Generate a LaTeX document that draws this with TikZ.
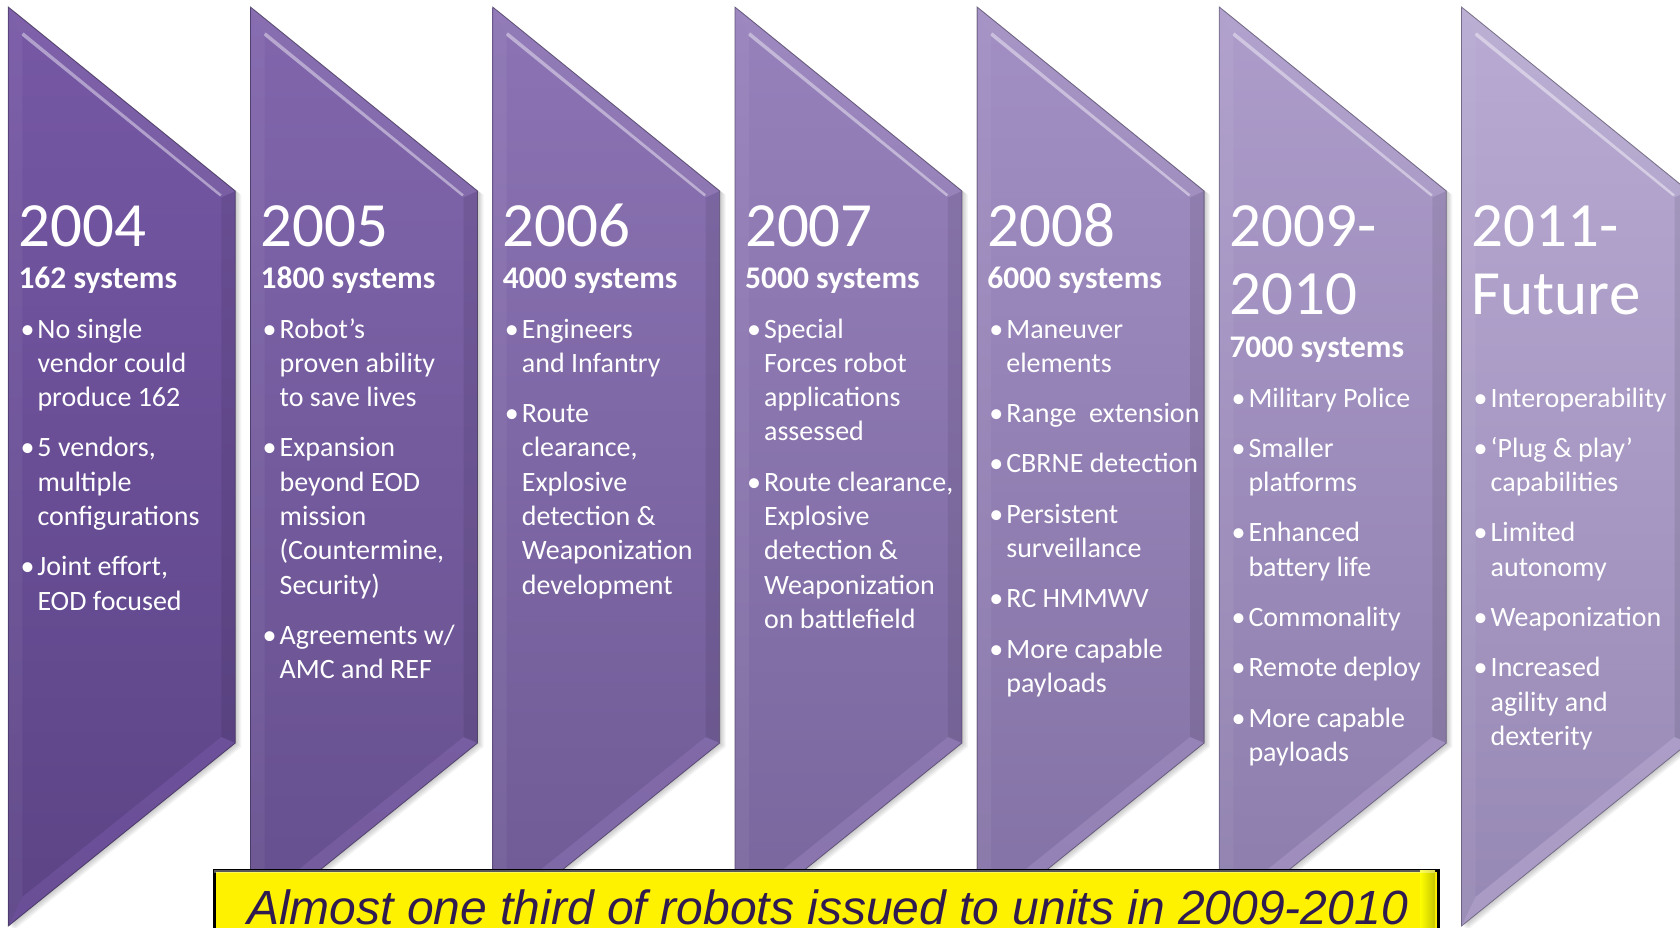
\documentclass[tikz,border=0pt]{standalone}
\usepackage{fontspec}
\setmainfont{Carlito}
\newfontfamily\bannerfont{Liberation Sans}

% column text helpers (lines are broken by hand, so no ragged setting is needed)
\newcommand\yearbox[1]{\parbox[t]{225pt}{\fontsize{63}{68}\selectfont #1}}
\newcommand\sysbox[1]{\parbox[t]{225pt}{\fontsize{31.5}{36}\selectfont\bfseries #1}}
\newcommand\itemlist[1]{\parbox[t]{260pt}{\fontsize{28}{34.3}\selectfont\setlength{\parskip}{16pt}#1}}
\newcommand\itm{\par\hangindent=19pt\hangafter=1\noindent\makebox[19pt][l]{\hspace{2pt}\textbullet}}

\definecolor{topL}{RGB}{118,88,165}
\definecolor{topR}{RGB}{184,170,210}
\definecolor{botL}{RGB}{92,68,134}
\definecolor{botR}{RGB}{150,136,180}
\definecolor{notetext}{RGB}{47,27,79}

\begin{document}
\begin{tikzpicture}[x=1pt,y=-1pt,
  coltext/.style={anchor=base west,inner sep=0pt,text=white},
  notebox/.style={draw=black,line width=3pt,fill=yellow,anchor=north west,
    inner sep=0pt,minimum width=1224pt,minimum height=90pt},
  notefont/.style={anchor=base west,inner sep=0pt,text=notetext,
    font=\bannerfont\itshape\fontsize{48}{52}\selectfont}]

\useasboundingbox (0,0) rectangle (1680,927);
\clip (0,0) rectangle (1680,927);
\fill[white] (0,0) rectangle (1680,927);

% bevelled chevron panels, getting lighter to the right
\foreach \i in {0,...,6} {
  \pgfmathsetmacro\xo{8.3+242.2*\i}
  \pgfmathsetmacro\pc{100-100*\i/6}
  \colorlet{ctop}{topL!\pc!topR}
  \colorlet{cbot}{botL!\pc!botR}
  \begin{scope}[shift={(\xo,0)}]
    % soft drop shadow
    \foreach \k in {1,...,5}
      \fill[black,opacity=0.045,shift={(\k*1.2,\k*0.8)}]
        (0,7) -- (227,191) -- (227,743) -- (0,926) -- cycle;
    % body
    \shade[top color=ctop,bottom color=cbot]
      (0,7) -- (227,191) -- (227,743) -- (0,926) -- cycle;
    % bevel faces
    \fill[white,opacity=0.06] (0,7) -- (227,191) -- (213,197.5) -- (14,36) -- cycle;
    \fill[white,opacity=0.05] (0,7) -- (14,36) -- (14,897) -- (0,926) -- cycle;
    \fill[black,opacity=0.08] (227,191) -- (227,743) -- (213,737) -- (213,197.5) -- cycle;
    \fill[ctop,opacity=0.55] (0,926) -- (14,897) -- (213,737) -- (227,743) -- cycle;
    \begin{scope}
      \clip (0,7) -- (227,191) -- (213,197.5) -- (14,36) -- cycle;
      \draw[ctop!40!white,line width=4pt,opacity=0.7] (14,34) -- (212,196);
    \end{scope}
    % outline
    \draw[cbot!60!black,line width=0.8pt,opacity=0.7]
      (0,7) -- (227,191) -- (227,743) -- (0,926) -- cycle;
  \end{scope}
}

% 2004
\node[coltext] (y2004) at (18.3,246) {\yearbox{2004}};
\node[coltext] (s2004) at (18.3,288) {\sysbox{162 systems}};
\node[coltext] (l2004) at (18.3,338) {\itemlist{%
  \itm No single\\ vendor could\\ produce 162
  \itm 5 vendors,\\ multiple\\ configurations
  \itm Joint effort,\\ EOD focused}};

% 2005
\node[coltext] (y2005) at (260.5,246) {\yearbox{2005}};
\node[coltext] (s2005) at (260.5,288) {\sysbox{1800 systems}};
\node[coltext] (l2005) at (260.5,338) {\itemlist{%
  \itm Robot’s\\ proven ability\\ to save lives
  \itm Expansion\\ beyond EOD\\ mission\\ (Countermine,\\ Security)
  \itm Agreements w/\\ AMC and REF}};

% 2006
\node[coltext] (y2006) at (502.7,246) {\yearbox{2006}};
\node[coltext] (s2006) at (502.7,288) {\sysbox{4000 systems}};
\node[coltext] (l2006) at (502.7,338) {\itemlist{%
  \itm Engineers\\ and Infantry
  \itm Route\\ clearance,\\ Explosive\\ detection \&\\ Weaponization\\ development}};

% 2007
\node[coltext] (y2007) at (744.9,246) {\yearbox{2007}};
\node[coltext] (s2007) at (744.9,288) {\sysbox{5000 systems}};
\node[coltext] (l2007) at (744.9,338) {\itemlist{%
  \itm Special\\ Forces robot\\ applications\\ assessed
  \itm Route clearance,\\ Explosive\\ detection \&\\ Weaponization\\ on battlefield}};

% 2008
\node[coltext] (y2008) at (987.1,246) {\yearbox{2008}};
\node[coltext] (s2008) at (987.1,288) {\sysbox{6000 systems}};
\node[coltext] (l2008) at (987.1,338) {\itemlist{%
  \itm Maneuver\\ elements
  \itm Range\ \ extension
  \itm CBRNE detection
  \itm Persistent\\ surveillance
  \itm RC HMMWV
  \itm More capable\\ payloads}};

% 2009-2010
\node[coltext] (y2009) at (1229.3,246) {\yearbox{2009-\\2010}};
\node[coltext] (s2009) at (1229.3,357) {\sysbox{7000 systems}};
\node[coltext] (l2009) at (1229.3,407) {\itemlist{%
  \itm Military Police
  \itm Smaller\\ platforms
  \itm Enhanced\\ battery life
  \itm Commonality
  \itm Remote deploy
  \itm More capable\\ payloads}};

% 2011-Future
\node[coltext] (y2011) at (1471.5,246) {\yearbox{2011-\\Future}};
\node[coltext] (l2011) at (1471.5,407) {\itemlist{%
  \itm Interoperability
  \itm ‘Plug \& play’\\ capabilities
  \itm Limited\\ autonomy
  \itm Weaponization
  \itm Increased\\ agility and\\ dexterity}};

% highlighted note along the bottom
\node[notebox] (note) at (212.5,868.5) {};
\shade[left color=yellow,right color=yellow!78!black]
  (1420,870) rectangle (1435,927);
\fill[white,opacity=0.35] (214,870) rectangle (1435,873);
\node[notefont] (notetxt) at (247,924)
  {Almost one third of robots issued to units in 2009-2010};

\end{tikzpicture}
\end{document}
